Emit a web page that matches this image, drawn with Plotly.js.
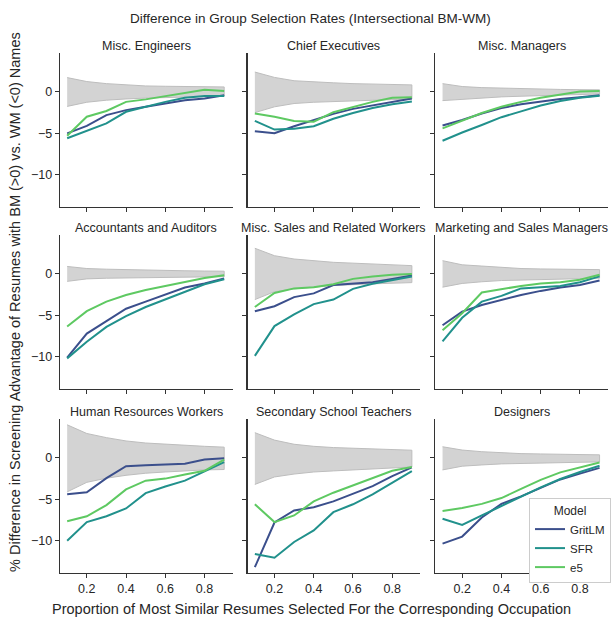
<!DOCTYPE html>
<html><head><meta charset="utf-8">
<script src="https://cdn.plot.ly/plotly-3.0.1.min.js"></script>
<style>body{margin:0;padding:0;background:#fff}#chart{width:611px;height:619px}</style>
</head><body><div id="chart"></div>
<script>
const xs = [0.1,0.2,0.3,0.4,0.5,0.6,0.7,0.8,0.9];
const occupations = ["Misc. Engineers","Chief Executives","Misc. Managers","Accountants and Auditors","Misc. Sales and Related Workers","Marketing and Sales Managers","Human Resources Workers","Secondary School Teachers","Designers"];
const models = ["GritLM","SFR","e5"];
const modelColors = ["#3b4f8c","#21918c","#5ec962"];

const gritlm = [
  [-5.0,-4.1,-2.8,-2.2,-1.8,-1.4,-1.0,-0.8,-0.4],
  [-4.75,-5.0,-4.15,-3.4,-2.65,-2.05,-1.65,-1.25,-0.8],
  [-4.05,-3.4,-2.6,-1.95,-1.5,-1.2,-0.85,-0.65,-0.4],
  [-10.1,-7.2,-5.7,-4.2,-3.35,-2.5,-1.65,-1.15,-0.55],
  [-4.5,-3.9,-2.8,-2.35,-1.35,-1.2,-1.0,-0.6,-0.2],
  [-6.2,-4.55,-3.75,-3.15,-2.55,-2.05,-1.65,-1.35,-0.8],
  [-4.4,-4.15,-2.45,-1.0,-0.9,-0.8,-0.7,-0.2,-0.05],
  [-13.2,-7.8,-6.35,-5.95,-5.25,-4.3,-3.4,-2.2,-1.15],
  [-10.35,-9.5,-7.2,-5.55,-4.65,-3.65,-2.6,-1.9,-1.2]
];
const sfr = [
  [-5.6,-4.7,-3.8,-2.4,-1.8,-1.2,-0.7,-0.5,-0.5],
  [-3.5,-4.55,-4.45,-4.15,-3.25,-2.55,-1.95,-1.5,-1.15],
  [-5.9,-4.9,-4.0,-3.05,-2.35,-1.65,-1.1,-0.7,-0.45],
  [-10.2,-8.2,-6.4,-5.1,-4.0,-3.05,-2.15,-1.25,-0.65],
  [-9.9,-6.3,-4.9,-3.65,-3.1,-1.8,-1.2,-0.75,-0.3],
  [-8.15,-5.3,-3.35,-2.65,-1.75,-1.6,-1.45,-1.0,-0.3],
  [-10.0,-7.75,-7.05,-6.1,-4.25,-3.45,-2.75,-1.6,-0.5],
  [-11.6,-12.05,-10.15,-8.75,-6.55,-5.6,-4.4,-3.0,-1.6],
  [-7.35,-8.1,-6.95,-5.8,-4.65,-3.55,-2.55,-1.7,-0.95]
];
const e5 = [
  [-5.3,-3.0,-2.3,-1.2,-0.9,-0.5,-0.1,0.25,0.1],
  [-2.6,-3.0,-3.5,-3.6,-2.45,-1.8,-1.2,-0.7,-0.65],
  [-4.4,-3.45,-2.55,-1.8,-1.2,-0.7,-0.3,0.05,0.1],
  [-6.35,-4.5,-3.35,-2.55,-1.95,-1.45,-0.95,-0.5,-0.15],
  [-4.0,-2.3,-1.75,-1.6,-1.25,-0.6,-0.3,-0.1,0.0],
  [-6.8,-4.75,-2.25,-1.85,-1.45,-1.15,-1.0,-0.7,-0.1],
  [-7.65,-7.05,-5.7,-3.8,-2.75,-2.5,-2.0,-1.55,-0.2],
  [-5.6,-7.75,-6.95,-5.25,-4.2,-3.3,-2.4,-1.55,-1.1],
  [-6.4,-6.05,-5.55,-4.85,-3.75,-2.65,-1.75,-1.15,-0.55]
];
const bandUpper = [
  [1.73,1.25,1.0,0.85,0.72,0.68,0.64,0.6,0.6],
  [2.4,1.75,1.35,1.2,1.1,1.0,0.93,0.9,0.85],
  [1.0,0.65,0.52,0.45,0.36,0.32,0.3,0.27,0.25],
  [0.9,0.65,0.57,0.5,0.45,0.42,0.38,0.35,0.33],
  [3.1,2.2,1.8,1.6,1.4,1.3,1.2,1.1,1.0],
  [1.6,1.1,0.95,0.8,0.65,0.6,0.57,0.52,0.52],
  [4.0,2.95,2.45,2.05,1.8,1.65,1.5,1.4,1.3],
  [3.05,2.15,1.65,1.4,1.25,1.15,1.05,0.97,0.93],
  [1.35,0.95,0.75,0.6,0.52,0.48,0.45,0.4,0.37]
];
const bandLower = [
  [-1.75,-1.25,-1.0,-0.85,-0.75,-0.7,-0.62,-0.55,-0.5],
  [-2.5,-1.8,-1.4,-1.25,-1.1,-1.05,-1.0,-0.92,-0.85],
  [-1.05,-0.85,-0.72,-0.6,-0.52,-0.45,-0.38,-0.3,-0.25],
  [-0.9,-0.6,-0.52,-0.48,-0.45,-0.42,-0.38,-0.35,-0.33],
  [-3.1,-2.15,-1.8,-1.6,-1.4,-1.3,-1.2,-1.1,-1.05],
  [-1.6,-1.15,-0.95,-0.8,-0.7,-0.65,-0.6,-0.57,-0.52],
  [-4.1,-2.95,-2.45,-2.1,-1.85,-1.7,-1.55,-1.45,-1.4],
  [-3.2,-2.3,-1.95,-1.7,-1.57,-1.45,-1.35,-1.2,-1.1],
  [-1.45,-1.0,-0.85,-0.72,-0.65,-0.6,-0.57,-0.52,-0.48]
];
const yTicks = [-10,-5,0];
const xTicks = [0.2,0.4,0.6,0.8];

const W = 611, H = 619;
const colPx = [[60,233],[248,421],[436,609]];
const rowPx = [[53,207],[235,389],[419,573]];
const font = "Liberation Sans, Arial, sans-serif";
const txt = "#262626";

const seriesAll = [gritlm, sfr, e5];
const traces = [];
const layout = {
  width: W, height: H, margin: {l:0,r:0,t:0,b:0},
  paper_bgcolor: "#fff", plot_bgcolor: "#fff",
  font: {family: font, color: txt, size: 12.5},
  showlegend: true,
  legend: {
    x: 530/W, y: 1-498/H, xanchor: "left", yanchor: "top",
    bgcolor: "#fff", bordercolor: "#cccccc", borderwidth: 1,
    font: {size: 11.5, color: txt},
    title: {text: "Model", side: "top center", font: {size: 12, color: txt}},
    tracegroupgap: 0, itemwidth: 30
  },
  annotations: [], shapes: []
};

for (let i = 0; i < 9; i++) {
  const r = Math.floor(i/3), c = i % 3;
  const ax = i === 0 ? "" : String(i+1);
  const xa = "x"+ax, ya = "y"+ax;
  traces.push({
    x: xs.concat(xs.slice().reverse()),
    y: bandUpper[i].concat(bandLower[i].slice().reverse()),
    xaxis: xa, yaxis: ya, type: "scatter", mode: "lines",
    fill: "toself", fillcolor: "rgba(211,211,211,1)",
    line: {color: "#bdbdbd", width: 1},
    hoverinfo: "skip", showlegend: false
  });
  for (let m = 0; m < 3; m++) {
    traces.push({
      x: xs, y: seriesAll[m][i], xaxis: xa, yaxis: ya,
      type: "scatter", mode: "lines", name: models[m],
      line: {color: modelColors[m], width: 2},
      showlegend: i === 0, legendgroup: models[m]
    });
  }
  layout["xaxis"+ax] = {
    domain: [colPx[c][0]/W, colPx[c][1]/W], anchor: ya,
    range: [0.063, 0.943], tickvals: xTicks, ticktext: xTicks.map(v=>v.toFixed(1)),
    showticklabels: r === 2, ticks: "outside", ticklen: 4, tickwidth: 1, tickcolor: "#333",
    showline: true, linecolor: "#333", linewidth: 1.2, showgrid: false, zeroline: false,
    tickfont: {size: 12.5, color: txt}
  };
  layout["yaxis"+ax] = {
    domain: [1-rowPx[r][1]/H, 1-rowPx[r][0]/H], anchor: xa,
    range: [-13.9, 4.7], tickvals: yTicks,
    showticklabels: c === 0, ticks: "outside", ticklen: 4, tickwidth: 1, tickcolor: "#333",
    showline: true, linecolor: "#333", linewidth: 1.2, showgrid: false, zeroline: false,
    tickfont: {size: 12.5, color: txt}
  };
  layout.annotations.push({
    text: occupations[i], xref: "paper", yref: "paper",
    x: (colPx[c][0]+colPx[c][1])/2/W, y: 1-(rowPx[r][0]-7)/H,
    xanchor: "center", yanchor: "middle", showarrow: false,
    font: {size: 12.5, color: txt}
  });
}
layout.annotations.push({
  text: "Difference in Group Selection Rates (Intersectional BM-WM)",
  xref: "paper", yref: "paper", x: 311/W, y: 1-18/H, xanchor: "center", yanchor: "middle",
  showarrow: false, font: {size: 13.5, color: txt}
});
layout.annotations.push({
  text: "Proportion of Most Similar Resumes Selected For the Corresponding Occupation",
  xref: "paper", yref: "paper", x: 312/W, y: 1-609/H, xanchor: "center", yanchor: "middle",
  showarrow: false, font: {size: 14.5, color: txt}
});
layout.annotations.push({
  text: "% Difference in Screening Advantage of Resumes with BM (>0) vs. WM (<0) Names",
  xref: "paper", yref: "paper", x: 15/W, y: 1-302/H, xanchor: "center", yanchor: "middle",
  textangle: -90, showarrow: false, font: {size: 14.5, color: txt}
});

Plotly.newPlot("chart", traces, layout, {displayModeBar: false, staticPlot: true});
</script></body></html>
